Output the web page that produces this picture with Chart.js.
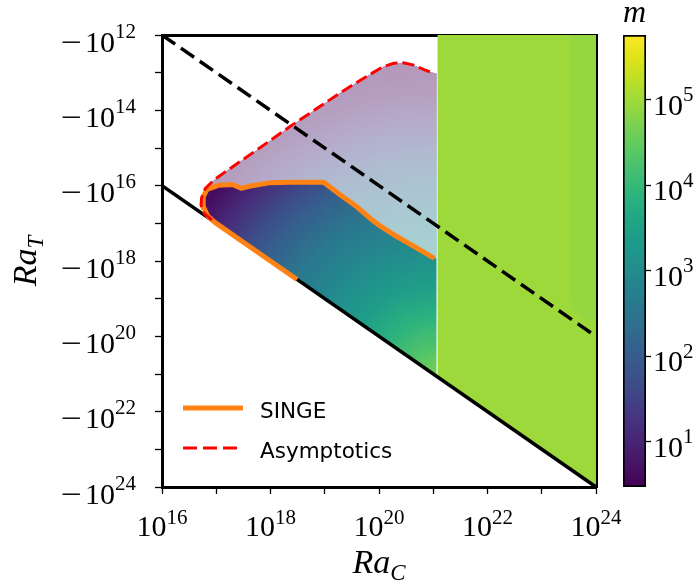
<!DOCTYPE html>
<html><head><meta charset="utf-8">
<script src="https://cdn.jsdelivr.net/npm/chart.js@4.4.1/dist/chart.umd.min.js"></script>
<style>
html,body{margin:0;padding:0;background:#fff;}
#wrap{position:relative;width:700px;height:585px;overflow:hidden;}
#main{position:absolute;left:0;top:0;}
#cbar{position:absolute;left:600px;top:0;}
</style></head><body>
<div id="wrap"><canvas id="main" width="700" height="585"></canvas><canvas id="cbar" width="100" height="585"></canvas></div>
<script>
// ---- values (log10 of |Ra|) ----
const logRaCTicks = [16,17,18,19,20,21,22,23,24];
const logRaCLabels = [16,18,20,22,24];
const logRaTTicks = [12,13,14,15,16,17,18,19,20,21,22,23,24];
const logRaTLabels = [12,14,16,18,20,22,24];
const logMTicks = [1,2,3,4,5];
const logMRange = [0.47, 5.76];

// SINGE contour (Ra_C, -Ra_T)
const singeLogRaC = [18.49,17.60,16.98,16.84,16.77,16.76,16.83,17.04,17.30,17.46,17.63,18.00,18.37,18.98,19.29,19.59,19.84,20.02,20.33,20.70,21.02];
const singeLogRaT = [18.49,17.60,16.98,16.80,16.58,16.30,16.10,15.99,15.97,16.07,16.01,15.92,15.91,15.91,16.25,16.56,16.87,17.07,17.35,17.66,17.93];

// Asymptotic contour
const asymLogRaC = [16.92,16.78,16.72,16.73,16.80,16.95,17.14,17.44,17.75,18.36,18.98,19.29,19.59,19.84,20.08,20.27,20.45,20.64,20.82,20.96];
const asymLogRaT = [16.91,16.74,16.52,16.32,16.07,15.86,15.66,15.36,15.05,14.43,13.83,13.53,13.26,13.04,12.84,12.75,12.74,12.80,12.91,12.99];

// Ra_T = -Ra_C (solid) and Ra_T = -Ra_C/10^4 (dashed)
const onsetLogRaC = [16, 24];
const onsetLogRaT = [16, 24];
const dashedLogRaC = [16, 24];
const dashedLogRaT = [12, 20];

// edge of the computed field / start of saturated region
const fieldEdgeLogRaC = 21.06;
const saturatedEdgeLogRaC = 21.08;
const fieldTopLogRaT = 13.02;

// slightly darker strip in the saturated region
const stripLogRaC = [23.53,23.53,23.58,23.70,23.85,24.0,24.0];
const stripLogRaT = [12.0,18.95,19.30,19.48,19.57,19.60,12.0];

// ---- helpers ----
const pts = (xs, ys) => xs.map((x, i) => ({x, y: ys[i]}));

const VIRIDIS = ['#440154','#471365','#482475','#463480','#414487','#3b528b','#355f8d','#2f6c8e','#2a788e','#25848e','#21918c','#1e9c89','#22a884','#2fb47c','#44bf70','#5ec962','#7ad151','#9bd93c','#bddf26','#dfe318','#fde725'];
function hex2rgb(h){return [parseInt(h.slice(1,3),16),parseInt(h.slice(3,5),16),parseInt(h.slice(5,7),16)];}
function viridis(t){
  t = Math.max(0, Math.min(1, t));
  const f = t * (VIRIDIS.length - 1); const i = Math.min(Math.floor(f), VIRIDIS.length - 2); const u = f - i;
  const a = hex2rgb(VIRIDIS[i]), b = hex2rgb(VIRIDIS[i+1]);
  return 'rgb(' + a.map((v,k)=>Math.round(v + (b[k]-v)*u)).join(',') + ')';
}
// radial colour profile of the field (fraction of radius -> colormap position)
const fieldProfile = [[0,0.80],[0.08,0.73],[0.19,0.64],[0.29,0.56],[0.38,0.50],[0.44,0.46],[0.55,0.40],[0.67,0.30],[0.74,0.23],[0.84,0.12],[0.92,0.04],[1,0.0]];

function fieldGradient(c){
  const chart = c.chart; const a = chart.chartArea;
  if (!a) return '#3b528b';
  const xs = chart.scales.x, ys = chart.scales.y;
  const cx = xs.getPixelForValue(fieldEdgeLogRaC), cy = ys.getPixelForValue(fieldEdgeLogRaC);
  const R = 0.714 * (a.right - a.left);
  const g = chart.ctx.createRadialGradient(cx, cy, 0, cx, cy, R);
  fieldProfile.forEach(([s, t]) => g.addColorStop(s, viridis(t)));
  return g;
}

// polygons
const fieldPoly = pts(asymLogRaC, asymLogRaT).concat([{x: fieldEdgeLogRaC, y: fieldTopLogRaT}, {x: fieldEdgeLogRaC, y: fieldEdgeLogRaC}]);
const singePts = pts(singeLogRaC, singeLogRaT);
const overlayPoly = pts(asymLogRaC, asymLogRaT)
  .concat([{x: fieldEdgeLogRaC, y: fieldTopLogRaT}, {x: fieldEdgeLogRaC, y: singeLogRaT[singeLogRaT.length-1]}])
  .concat(singePts.slice(2).reverse());
const saturatedPoly = [{x: saturatedEdgeLogRaC, y: 12}, {x: 24, y: 12}, {x: 24, y: 24}, {x: saturatedEdgeLogRaC, y: saturatedEdgeLogRaC}];

const FONT_SERIF = 'Liberation Serif';
const MAIN_PX = 30, SUP_PX = 21;

// draws  [−]10^exp  ; align: 'left' | 'center' | 'right'
function drawPow(ctx, negative, exp, x, baseline, align, raise){
  const mainFont = MAIN_PX + 'px "' + FONT_SERIF + '"';
  const supFont = SUP_PX + 'px "' + FONT_SERIF + '"';
  ctx.font = mainFont;
  const minusW = negative ? MAIN_PX * 0.80 : 0;
  const mW = ctx.measureText('\u2212').width;
  const tenW = ctx.measureText('10').width;
  ctx.font = supFont;
  const supW = ctx.measureText(String(exp)).width;
  const total = minusW + tenW + supW;
  const x0 = align === 'right' ? x - total : (align === 'center' ? x - total / 2 : x);
  ctx.textAlign = 'left';
  ctx.textBaseline = 'alphabetic';
  ctx.font = mainFont;
  if (negative) {
    ctx.save();
    ctx.translate(x0, baseline);
    ctx.scale((minusW - 3) / mW, 1);
    ctx.fillText('\u2212', 0, 0);
    ctx.restore();
  }
  ctx.fillText('10', x0 + minusW, baseline);
  ctx.font = supFont;
  ctx.fillText(String(exp), x0 + minusW + tenW, baseline - raise);
}

const tickLabels = {
  id: 'tickLabels',
  afterDraw(chart){
    const {ctx} = chart;
    const xs = chart.scales.x, ys = chart.scales.y;
    ctx.save();
    ctx.fillStyle = '#000';
    logRaCLabels.forEach(v => drawPow(ctx, false, v, xs.getPixelForValue(v), xs.top + 49, 'center', 12));
    logRaTLabels.forEach(v => drawPow(ctx, true, v, xs.left - 26, ys.getPixelForValue(v) + 16.5, 'right', 14));
    ctx.restore();
  }
};

const axisTitles = {
  id: 'axisTitles',
  afterDraw(chart){
    const {ctx, chartArea: a} = chart;
    ctx.save();
    ctx.fillStyle = '#000';
    ctx.textBaseline = 'alphabetic';
    ctx.textAlign = 'left';
    function drawSub(main, sub, cx, base){
      ctx.font = 'italic 34px "' + FONT_SERIF + '"';
      const w1 = ctx.measureText(main).width;
      ctx.font = 'italic 23px "' + FONT_SERIF + '"';
      const w2 = ctx.measureText(sub).width;
      const x0 = cx - (w1 + w2) / 2;
      ctx.font = 'italic 34px "' + FONT_SERIF + '"';
      ctx.fillText(main, x0, base);
      ctx.font = 'italic 23px "' + FONT_SERIF + '"';
      ctx.fillText(sub, x0 + w1, base + 7);
    }
    drawSub('Ra', 'C', (a.left + a.right) / 2, 573);
    ctx.translate(36, (a.top + a.bottom) / 2);
    ctx.rotate(-Math.PI / 2);
    drawSub('Ra', 'T', 0, 0);
    ctx.restore();
  }
};

const insideLegend = {
  id: 'insideLegend',
  afterDatasetsDraw(chart){
    const {ctx, chartArea: a} = chart;
    const items = chart.data.datasets.filter(d => d.inLegend);
    ctx.save();
    items.forEach((d, i) => {
      const y = a.top + 373 + i * 40;
      ctx.beginPath();
      ctx.strokeStyle = d.borderColor;
      ctx.lineWidth = d.borderWidth;
      ctx.setLineDash(d.borderDash ? [14, 6] : []);
      ctx.moveTo(a.left + 21, y);
      ctx.lineTo(a.left + 81, y);
      ctx.stroke();
      ctx.setLineDash([]);
      ctx.fillStyle = '#000';
      ctx.font = '21.5px "DejaVu Sans"';
      ctx.textBaseline = 'alphabetic';
      ctx.textAlign = 'left';
      ctx.fillText(d.label, a.left + 98, y + 10);
    });
    ctx.restore();
  }
};

const base = {type: 'line', pointRadius: 0, pointHoverRadius: 0, tension: 0};

new Chart(document.getElementById('main'), {
  type: 'line',
  data: {
    datasets: [
      Object.assign({}, base, {label: 'saturated', data: saturatedPoly, fill: 'shape', backgroundColor: '#9dd93b', borderWidth: 0, borderColor: 'transparent', order: 10}),
      Object.assign({}, base, {label: 'strip', data: pts(stripLogRaC, stripLogRaT), fill: 'shape', backgroundColor: '#94d740', borderWidth: 0, borderColor: 'transparent', order: 9}),
      Object.assign({}, base, {label: 'field', data: fieldPoly, fill: 'shape', backgroundColor: fieldGradient, borderWidth: 0, borderColor: 'transparent', order: 8}),
      Object.assign({}, base, {label: 'overlay', data: overlayPoly, fill: 'shape', backgroundColor: 'rgba(255,255,255,0.6)', borderWidth: 0, borderColor: 'transparent', order: 7}),
      Object.assign({}, base, {label: 'onset', data: pts(onsetLogRaC, onsetLogRaT), fill: false, borderColor: '#000', borderWidth: 3.5, order: 4}),
      Object.assign({}, base, {label: 'SINGE', inLegend: true, data: singePts, fill: false, borderColor: '#ff8214', borderWidth: 5, borderJoinStyle: 'round', borderCapStyle: 'butt', order: 2}),
      Object.assign({}, base, {label: 'Asymptotics', inLegend: true, data: pts(asymLogRaC, asymLogRaT), fill: false, borderColor: '#ff0000', borderWidth: 3, borderDash: [12, 5], order: 1}),
      Object.assign({}, base, {label: 'dashed', data: pts(dashedLogRaC, dashedLogRaT), fill: false, borderColor: '#000', borderWidth: 3.5, borderDash: [16, 7], order: 0})
    ]
  },
  options: {
    responsive: false, animation: false, events: [],
    layout: {padding: 0},
    plugins: {legend: {display: false}, tooltip: {enabled: false}, title: {display: false}},
    scales: {
      x: {type: 'linear', position: 'bottom', min: 16, max: 24,
        afterBuildTicks: s => { s.ticks = logRaCTicks.map(v => ({value: v})); },
        ticks: {display: false},
        grid: {display: true, drawOnChartArea: false, drawTicks: true, tickLength: 7, tickWidth: 1.3, tickColor: '#000'},
        border: {display: true, color: '#000', width: 3},
        afterFit: s => { s.height = 98; }
      },
      y: {type: 'linear', position: 'left', min: 12, max: 24, reverse: true,
        afterBuildTicks: s => { s.ticks = logRaTTicks.map(v => ({value: v})); },
        ticks: {display: false},
        grid: {display: true, drawOnChartArea: false, drawTicks: true, tickLength: 7, tickWidth: 1.3, tickColor: '#000'},
        border: {display: true, color: '#000', width: 3},
        afterFit: s => { s.width = 162; }
      },
      x2: {type: 'linear', position: 'top', min: 16, max: 24, ticks: {display: false}, grid: {display: false},
        border: {display: true, color: '#000', width: 3}, afterFit: s => { s.height = 35; }},
      y2: {type: 'linear', position: 'right', min: 12, max: 24, reverse: true, ticks: {display: false}, grid: {display: false},
        border: {display: true, color: '#000', width: 3}, afterFit: s => { s.width = 104; }}
    }
  },
  plugins: [tickLabels, axisTitles, insideLegend]
});

// ---- colorbar ----
const cbarText = {
  id: 'cbarText',
  afterDraw(chart){
    const {ctx, chartArea: a} = chart;
    const ys = chart.scales.y;
    ctx.save();
    ctx.fillStyle = '#000';
    ctx.font = 'italic 32px "' + FONT_SERIF + '"';
    ctx.textAlign = 'center';
    ctx.textBaseline = 'alphabetic';
    ctx.fillText('m', (a.left + a.right) / 2, 22);
    logMTicks.forEach(v => drawPow(ctx, false, v, a.right + 7, ys.getPixelForValue(v) + 15, 'left', 13.5));
    ctx.restore();
  }
};
function cbarGradient(c){
  const chart = c.chart; const a = chart.chartArea;
  if (!a) return '#21918c';
  const ys = chart.scales.y;
  const g = chart.ctx.createLinearGradient(0, ys.getPixelForValue(logMRange[0]), 0, ys.getPixelForValue(logMRange[1]));
  VIRIDIS.forEach((col, i) => g.addColorStop(i / (VIRIDIS.length - 1), col));
  return g;
}
new Chart(document.getElementById('cbar'), {
  type: 'bar',
  data: {labels: ['m'], datasets: [{data: [logMRange], backgroundColor: cbarGradient, borderColor: '#000', borderWidth: 2, borderSkipped: false, barPercentage: 1, categoryPercentage: 1}]},
  options: {
    responsive: false, animation: false, events: [],
    layout: {padding: {left: 23, top: 35, bottom: 98, right: 0}},
    plugins: {legend: {display: false}, tooltip: {enabled: false}},
    scales: {
      x: {display: false},
      y: {position: 'right', min: logMRange[0], max: logMRange[1],
        afterBuildTicks: s => { s.ticks = logMTicks.map(v => ({value: v})); },
        ticks: {display: false},
        grid: {display: true, drawOnChartArea: false, drawTicks: true, tickLength: 5, tickWidth: 1.3, tickColor: '#000'},
        border: {display: false},
        afterFit: s => { s.width = 54; }
      }
    }
  },
  plugins: [cbarText]
});
</script>
</body></html>
